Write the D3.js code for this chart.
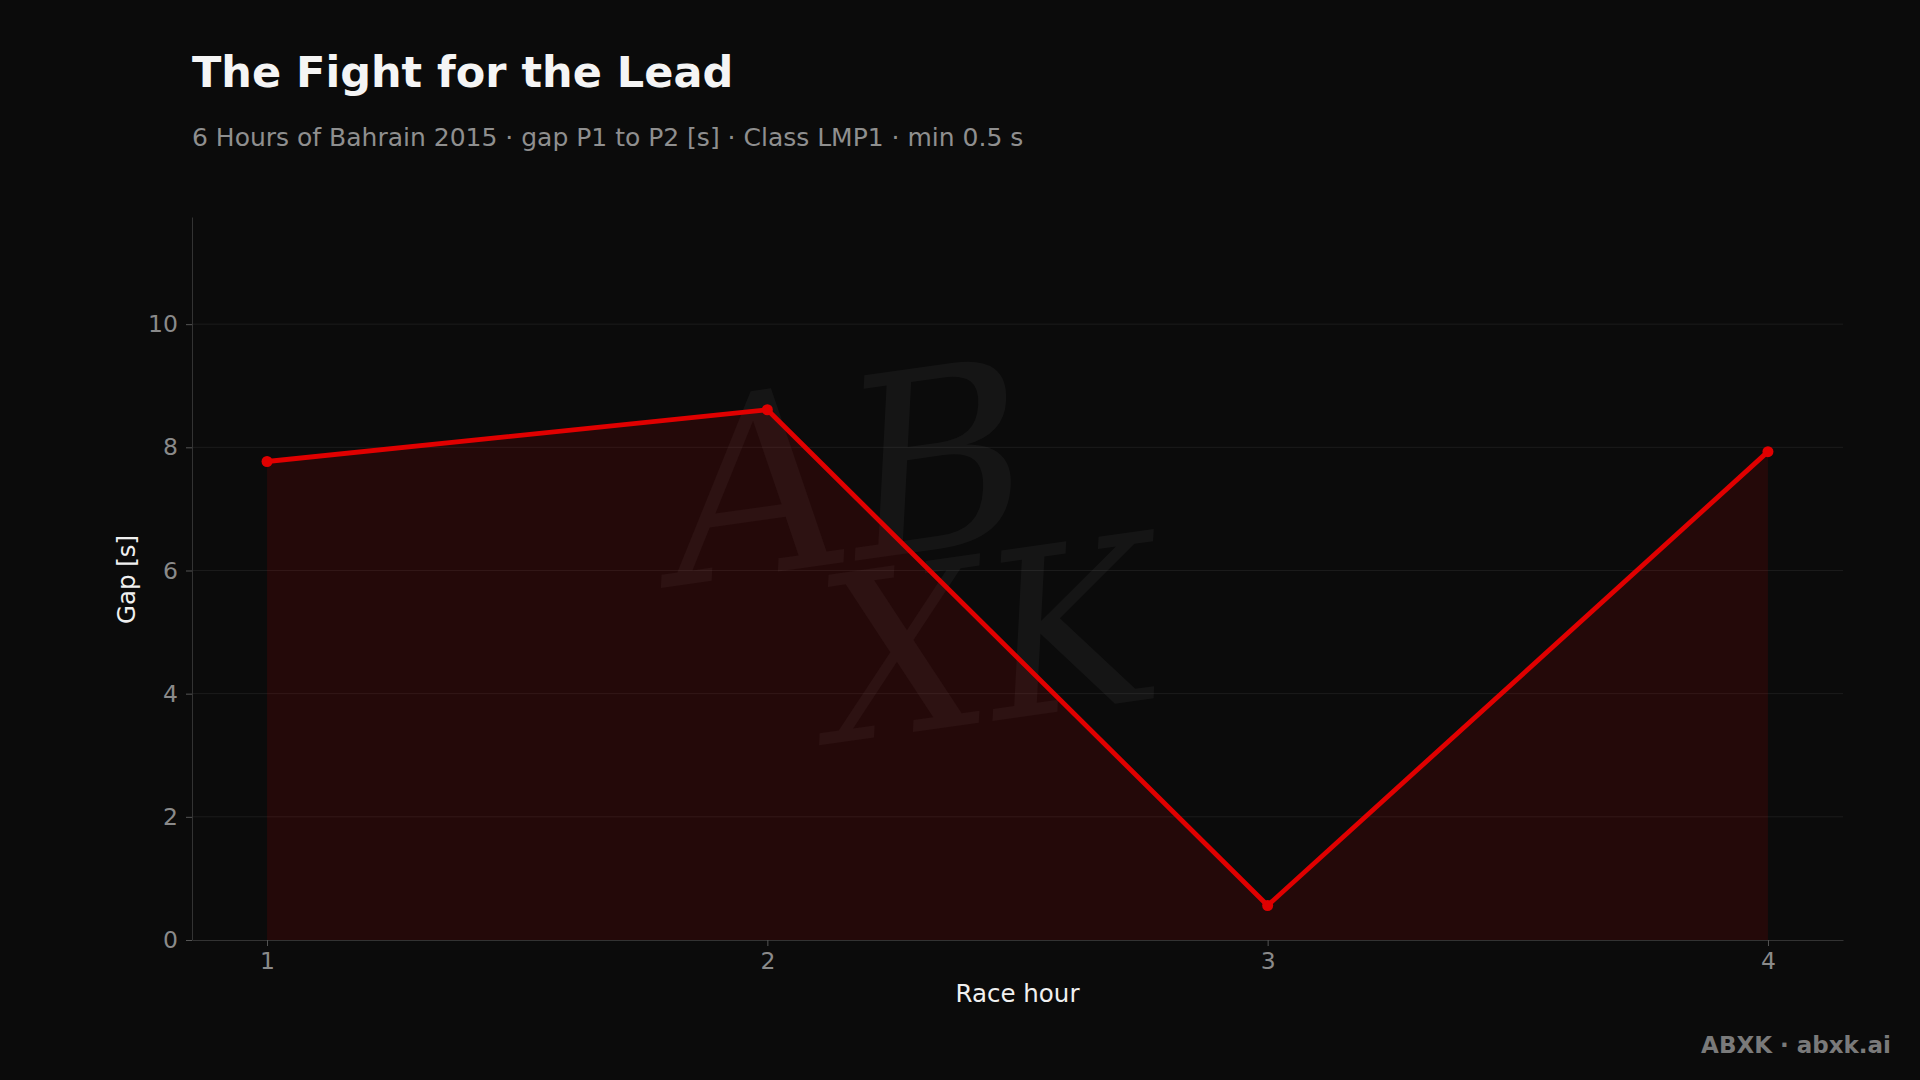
<!DOCTYPE html>
<html><head><meta charset="utf-8">
<script src="https://cdn.jsdelivr.net/npm/d3@7"></script>
<style>
html,body{margin:0;padding:0;background:#0b0b0b;}
svg{display:block;font-family:"DejaVu Sans",sans-serif;}
</style></head>
<body>
<svg id="chart" width="1920" height="1080"></svg>
<script>
const hours = [1, 2, 3, 4];
const gaps = [7.77, 8.61, 0.56, 7.93];
const yTicks = [0, 2, 4, 6, 8, 10];
const xTicks = [1, 2, 3, 4];
const titleText = "The Fight for the Lead";
const subtitleText = "6 Hours of Bahrain 2015 · gap P1 to P2 [s] · Class LMP1 · min 0.5 s";

const svg = d3.select("#chart");
const W = 1920, H = 1080;
const m = {left: 192, right: 1843, top: 217, bottom: 940};

svg.append("rect").attr("width", W).attr("height", H).attr("fill", "#0b0b0b");

const x = d3.scaleLinear().domain([0.85, 4.15]).range([m.left, m.right]);
const y = d3.scaleLinear().domain([0, 11.74]).range([m.bottom, m.top]);

// watermark
const wm = svg.append("g").attr("fill", "#ffffff").attr("fill-opacity", 0.045)
  .style("font-family", "'DejaVu Serif', serif").style("font-style", "italic");
wm.append("text").attr("x", 860).attr("y", 560).attr("text-anchor", "middle")
  .attr("font-size", 250).attr("transform", "rotate(-8,860,560)").text("AB");
wm.append("text").attr("x", 1000).attr("y", 720).attr("text-anchor", "middle")
  .attr("font-size", 230).attr("transform", "rotate(-8,1000,720)").text("XK");

// grid
svg.append("g").selectAll("line").data(yTicks.filter(d => d > 0)).join("line")
  .attr("x1", m.left).attr("x2", m.right)
  .attr("y1", d => y(d)).attr("y2", d => y(d))
  .attr("stroke", "#ffffff").attr("stroke-opacity", 0.07).attr("stroke-width", 1);

// area
const data = hours.map((h, i) => ({h, g: gaps[i]}));
svg.append("path").datum(data)
  .attr("d", d3.area().x(d => x(d.h)).y0(y(0)).y1(d => y(d.g)))
  .attr("fill", "#d00000").attr("fill-opacity", 0.13);

// axes
const yAxis = svg.append("g").attr("transform", `translate(${m.left},0)`)
  .call(d3.axisLeft(y).tickValues(yTicks).tickSizeInner(6).tickSizeOuter(0).tickPadding(8).tickFormat(d3.format("d")));
const xAxis = svg.append("g").attr("transform", `translate(0,${m.bottom})`)
  .call(d3.axisBottom(x).tickValues(xTicks).tickSizeInner(6).tickSizeOuter(0).tickPadding(6).tickFormat(d3.format("d")));
[yAxis, xAxis].forEach(a => {
  a.select(".domain").attr("stroke", "#333333");
  a.selectAll(".tick line").attr("stroke", "#555555");
  a.selectAll(".tick text").attr("fill", "#8a8a8a").attr("font-size", 23.5)
    .style("font-family", "'DejaVu Sans',sans-serif");
});

// line
svg.append("path").datum(data)
  .attr("d", d3.line().x(d => x(d.h)).y(d => y(d.g)))
  .attr("fill", "none").attr("stroke", "#e00000").attr("stroke-width", 4.8)
  .attr("stroke-linejoin", "round");
svg.append("g").selectAll("circle").data(data).join("circle")
  .attr("cx", d => x(d.h)).attr("cy", d => y(d.g)).attr("r", 5.5).attr("fill", "#e00000");

// titles
svg.append("text").attr("x", 192).attr("y", 87).attr("fill", "#f5f5f5")
  .attr("font-size", 43).attr("font-weight", "bold").text(titleText);
svg.append("text").attr("x", 192).attr("y", 146).attr("fill", "#8f8f8f")
  .attr("font-size", 25).text(subtitleText);

// axis labels
svg.append("text").attr("x", (m.left + m.right) / 2).attr("y", 1002)
  .attr("text-anchor", "middle").attr("fill", "#f0f0f0").attr("font-size", 24.5).text("Race hour");
svg.append("text").attr("transform", `translate(135,${(m.top + m.bottom) / 2 + 1}) rotate(-90)`)
  .attr("text-anchor", "middle").attr("fill", "#f0f0f0").attr("font-size", 24.5).text("Gap [s]");

// footer
svg.append("text").attr("x", 1891).attr("y", 1053).attr("text-anchor", "end")
  .attr("fill", "#7a7a7a").attr("font-size", 23).attr("font-weight", "bold").text("ABXK · abxk.ai");
</script>
</body></html>
